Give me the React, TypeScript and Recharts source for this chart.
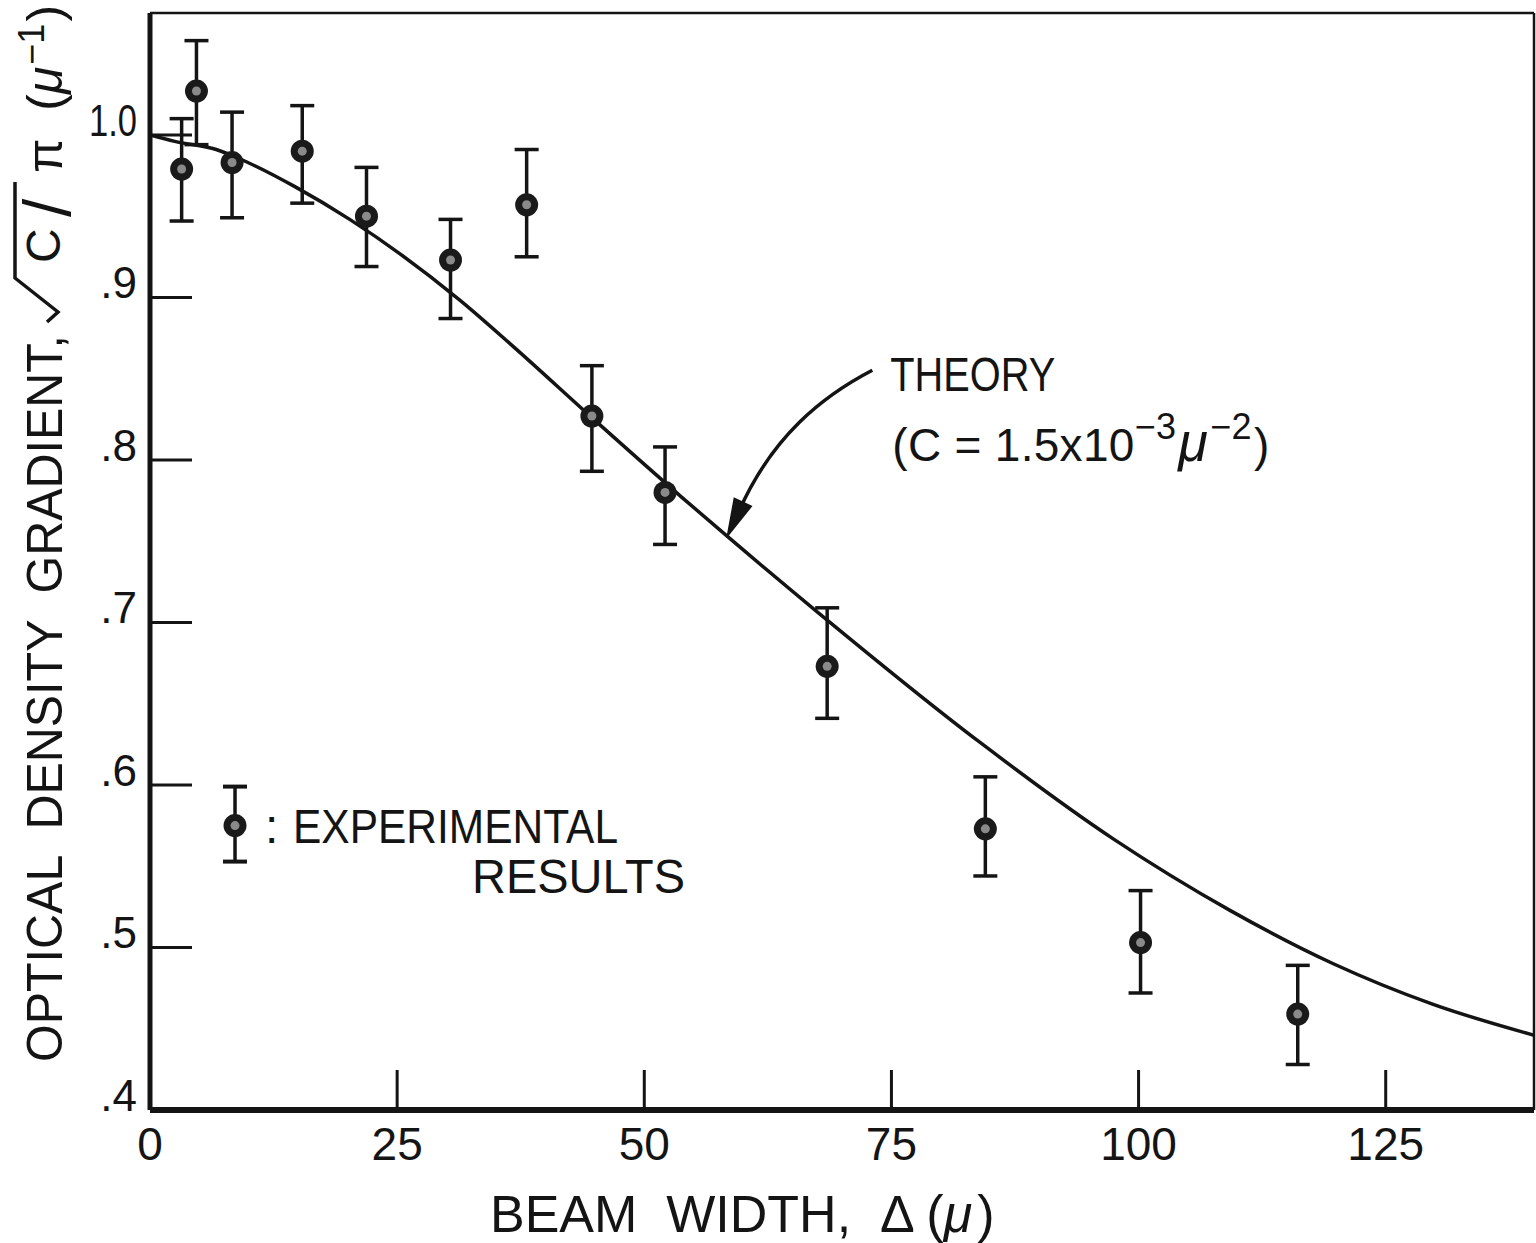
import React from 'react';
import {
  ComposedChart,
  Line,
  Scatter,
  XAxis,
  YAxis,
  ErrorBar,
  ReferenceLine,
  ReferenceDot,
} from 'recharts';

// ---- data ----
const beamWidth = [3.2, 4.7, 8.3, 15.4, 21.9, 30.4, 38.1, 44.7, 52.1, 68.5, 84.5, 100.2, 116.1];
const gradient = [0.979, 1.027, 0.983, 0.99, 0.95, 0.923, 0.957, 0.827, 0.78, 0.673, 0.573, 0.503, 0.459];
const errUpper = [1.01, 1.058, 1.014, 1.018, 0.98, 0.948, 0.991, 0.858, 0.808, 0.709, 0.605, 0.535, 0.489];
const errLower = [0.947, 0.994, 0.949, 0.958, 0.919, 0.887, 0.925, 0.793, 0.748, 0.641, 0.544, 0.472, 0.428];

const theoryX = [0, 2.5, 6.7, 9.9, 14.7, 20.2, 31.4, 36.7, 44.7, 53.8, 58.2, 67.4, 84.0, 97.4, 109.2, 119.7, 129.8, 140];
const theoryY = [1.0, 0.996, 0.991, 0.983, 0.968, 0.948, 0.898, 0.87, 0.826, 0.777, 0.754, 0.707, 0.626, 0.567, 0.523, 0.49, 0.465, 0.446];

const xTicks = [0, 25, 50, 75, 100, 125];
const xTickLabels = ['0', '25', '50', '75', '100', '125'];
const yTicks = [0.4, 0.5, 0.6, 0.7, 0.8, 0.9, 1.0];
const yTickLabels = ['.4', '.5', '.6', '.7', '.8', '.9', '1.0'];

const legendPoint = { x: 8.6, y: 0.575 };
const arrowTip = { x: 58.4, y: 0.753 };

const X_MAX = 140;
const Y_MIN = 0.4;
const Y_MAX = 1.075;

// ---- tables built from the arrays ----
const experimental = beamWidth.map((x, i) => ({
  x,
  y: gradient[i],
  err: [gradient[i] - errLower[i], errUpper[i] - gradient[i]],
}));
const theory = theoryX.map((x, i) => ({ x, y: theoryY[i] }));

const FONT = '"Liberation Sans", Arial, sans-serif';
const INK = '#141414';

const YTick = (props: any) => {
  const { x, y, payload } = props;
  const idx = yTicks.indexOf(payload.value);
  const label = idx >= 0 ? yTickLabels[idx] : String(payload.value);
  const isOne = label.length > 2;
  return (
    <g>
      {payload.value > Y_MIN + 0.01 && (
        <line x1={x} y1={y} x2={x + 42} y2={y} stroke={INK} strokeWidth={3} />
      )}
      <text
        x={x - 13}
        y={y + 1}
        textAnchor="end"
        fontSize={44}
        fontFamily={FONT}
        fill={INK}
        {...(isOne ? { textLength: 48, lengthAdjust: 'spacingAndGlyphs' } : {})}
      >
        {label}
      </text>
    </g>
  );
};

const XTick = (props: any) => {
  const { x, y, payload } = props;
  const idx = xTicks.indexOf(payload.value);
  const label = idx >= 0 ? xTickLabels[idx] : String(payload.value);
  return (
    <g>
      {payload.value > 0 && <line x1={x} y1={y} x2={x} y2={y - 40} stroke={INK} strokeWidth={3} />}
      <text x={x} y={y + 50} textAnchor="middle" fontSize={46} fontFamily={FONT} fill={INK}>
        {label}
      </text>
    </g>
  );
};

const Dot = (props: any) => {
  const { cx, cy } = props;
  return (
    <g>
      <circle cx={cx} cy={cy} r={11.5} fill="#1a1a1a" />
      <circle cx={cx} cy={cy} r={4.5} fill="#8a8a8a" />
    </g>
  );
};

const LegendShape = (props: any) => {
  const { cx, cy } = props;
  return (
    <g>
      <line x1={cx} y1={cy - 39} x2={cx} y2={cy + 36} stroke={INK} strokeWidth={3.5} />
      <line x1={cx - 12} y1={cy - 39} x2={cx + 12} y2={cy - 39} stroke={INK} strokeWidth={4} />
      <line x1={cx - 12} y1={cy + 36} x2={cx + 12} y2={cy + 36} stroke={INK} strokeWidth={4} />
      <circle cx={cx} cy={cy} r={11.5} fill="#1a1a1a" />
      <circle cx={cx} cy={cy} r={4.5} fill="#8a8a8a" />
      <text x={cx + 30} y={cy + 17} fontSize={48} fontFamily={FONT} fill={INK}>:</text>
      <text x={cx + 58} y={cy + 17} fontSize={48} fontFamily={FONT} fill={INK} textLength={325} lengthAdjust="spacingAndGlyphs">
        EXPERIMENTAL
      </text>
      <text x={cx + 237} y={cy + 67} fontSize={48} fontFamily={FONT} fill={INK} textLength={213} lengthAdjust="spacingAndGlyphs">
        RESULTS
      </text>
    </g>
  );
};

const ArrowShape = (props: any) => {
  const { cx, cy } = props;
  return (
    <g>
      <path
        d={`M ${cx + 145} ${cy - 166} C ${cx + 95} ${cy - 140}, ${cx + 45} ${cy - 100}, ${cx + 12} ${cy - 26}`}
        fill="none"
        stroke={INK}
        strokeWidth={3.5}
      />
      <path
        d={`M ${cx} ${cy} L ${cx + 24} ${cy - 30} L ${cx + 7} ${cy - 38} Z`}
        fill={INK}
        stroke={INK}
        strokeWidth={1.5}
      />
      <text x={cx + 163} y={cy - 145} fontSize={48} fontFamily={FONT} fill={INK} textLength={165} lengthAdjust="spacingAndGlyphs">
        THEORY
      </text>
      <text x={cx + 165} y={cy - 75} fontSize={46} letterSpacing={0.3} fontFamily={FONT} fill={INK} style={{ whiteSpace: 'pre' }}>
        {'(C = 1.5x10'}
        <tspan dy={-22} fontSize={36}>−3</tspan>
        <tspan dy={22} dx={2} fontSize={54} fontStyle="italic">μ</tspan>
        <tspan dy={-22} dx={2} fontSize={36}>−2</tspan>
        <tspan dy={22} dx={2}>)</tspan>
      </text>
    </g>
  );
};

const YTitle = (props: any) => {
  const vb = props.viewBox || { x: 50, y: 13, width: 100, height: 1097 };
  const bx = vb.x + 12; // baseline x of rotated text
  const by = vb.y + vb.height; // bottom of plot
  return (
    <g fill={INK} fontFamily={FONT}>
      <text
        transform={`translate(${bx},${by - 48}) rotate(-90)`}
        fontSize={50}
        textLength={727}
        lengthAdjust="spacingAndGlyphs"
        style={{ whiteSpace: 'pre' }}
      >
        {'OPTICAL  DENSITY  GRADIENT,'}
      </text>
      <path
        d={`M ${bx - 15} ${by - 788} L ${bx - 4} ${by - 798} L ${bx - 47} ${by - 832} L ${bx - 47} ${by - 928}`}
        fill="none"
        stroke={INK}
        strokeWidth={3.5}
      />
      <text transform={`translate(${bx - 2},${by - 847}) rotate(-90)`} fontSize={48}>C</text>
      <text transform={`translate(${bx + 8},${by - 893}) rotate(-90)`} fontSize={66}>/</text>
      <text transform={`translate(${bx},${by - 937}) rotate(-90)`} fontSize={50} style={{ whiteSpace: 'pre' }}>
        {'π  ('}
        <tspan fontStyle="italic">μ</tspan>
        <tspan dy={-18} dx={2} fontSize={36}>−1</tspan>
        <tspan dy={18} dx={2}>)</tspan>
      </text>
    </g>
  );
};

const XTitle = (props: any) => {
  const vb = props.viewBox || { x: 150, y: 1110, width: 1384, height: 100 };
  return (
    <text
      x={vb.x + 340}
      y={vb.y + 122}
      fontSize={52}
      fontFamily={FONT}
      fill={INK}
      style={{ whiteSpace: 'pre' }}
    >
      {'BEAM  WIDTH,  Δ ('}
      <tspan fontStyle="italic">μ</tspan>
      <tspan dx={5}>)</tspan>
    </text>
  );
};

export default function App() {
  return (
    <div style={{ position: 'absolute', left: 0, top: 0, width: 1536, height: 1243, background: '#fff' }}>
      <ComposedChart
        width={1536}
        height={1243}
        margin={{ top: 13, right: 2, left: 50, bottom: 33 }}
        style={{ background: '#fff' }}
      >
        <XAxis
          type="number"
          dataKey="x"
          domain={[0, X_MAX]}
          ticks={xTicks}
          tick={<XTick />}
          tickLine={false}
          tickSize={0}
          tickMargin={0}
          height={100}
          axisLine={{ stroke: INK, strokeWidth: 6 }}
          allowDataOverflow
          label={{ content: (p: any) => <XTitle {...p} /> }}
        />
        <YAxis
          type="number"
          dataKey="y"
          domain={[Y_MIN, Y_MAX]}
          ticks={yTicks}
          tick={<YTick />}
          tickLine={false}
          tickSize={0}
          tickMargin={0}
          width={100}
          axisLine={{ stroke: INK, strokeWidth: 5 }}
          allowDataOverflow
          label={{ content: (p: any) => <YTitle {...p} /> }}
        />
        <ReferenceLine y={Y_MAX} stroke={INK} strokeWidth={2.5} />
        <ReferenceLine x={X_MAX} stroke={INK} strokeWidth={2.5} />
        <Line
          data={theory}
          dataKey="y"
          type="monotone"
          stroke={INK}
          strokeWidth={3.5}
          dot={false}
          activeDot={false}
          isAnimationActive={false}
        />
        <Scatter data={experimental} dataKey="y" shape={<Dot />} isAnimationActive={false}>
          <ErrorBar dataKey="err" direction="y" width={12} stroke={INK} strokeWidth={3.5} />
        </Scatter>
        <ReferenceDot x={legendPoint.x} y={legendPoint.y} shape={<LegendShape />} />
        <ReferenceDot x={arrowTip.x} y={arrowTip.y} shape={<ArrowShape />} />
      </ComposedChart>
    </div>
  );
}
